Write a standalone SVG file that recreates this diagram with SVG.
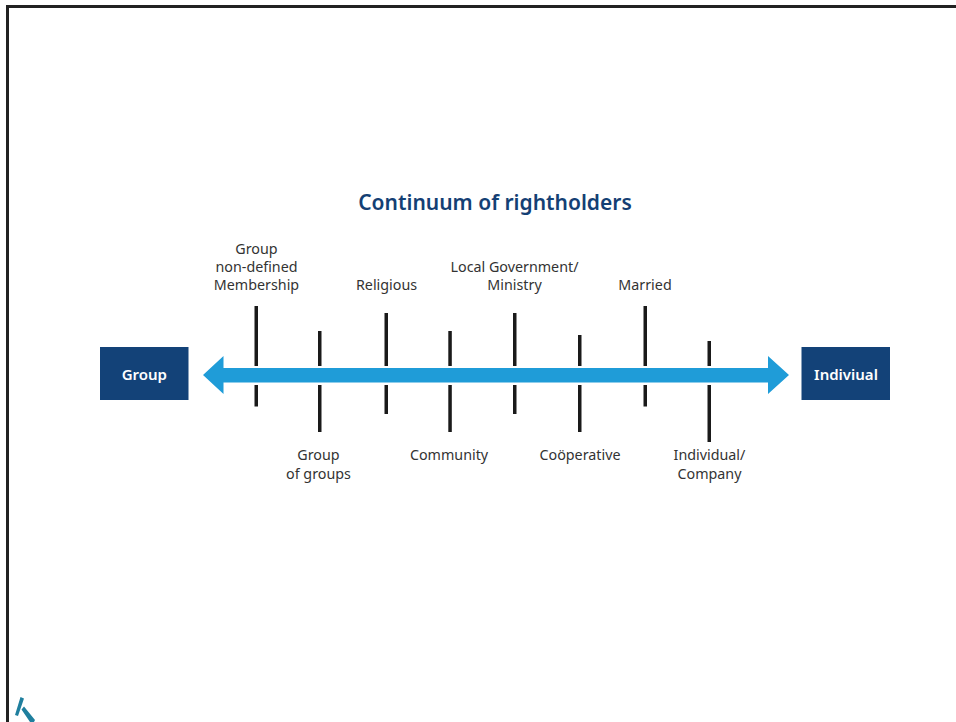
<svg xmlns="http://www.w3.org/2000/svg" width="956" height="722" viewBox="0 0 956 722">
<style>
.l{font-family:"Noto Sans","Liberation Sans",sans-serif;font-size:14.300px;fill:#333;text-anchor:middle}
.b{font-family:"Noto Sans","Liberation Sans",sans-serif;font-size:15px;font-weight:600;fill:#fff;text-anchor:middle}
.t{font-family:"Noto Sans","Liberation Sans",sans-serif;font-size:21px;font-weight:600;fill:#143f74;text-anchor:middle}
.k{fill:#1a1a1a}
.box{fill:#134278}
</style>
<rect width="956" height="722" fill="#fff"/>
<path d="M7.500 722V6.500H956" fill="none" stroke="#222" stroke-width="3"/>
<g id="logo"><path d="M15 715L20.500 697L24 698.500L18 716ZM21.500 709.500L24 706.500L35 720L34 722H30Z" fill="#1f7f9e"/></g>
<text id="title" class="t" x="495" y="210">Continuum of rightholders</text>
<g id="connectors">
<g class="k">
<rect x="254.500" y="306" width="3.500" height="60"/><rect x="254.500" y="385" width="3.500" height="21.500"/>
<rect x="318" y="331" width="3.500" height="35"/><rect x="318" y="385" width="3.500" height="47"/>
<rect x="384.500" y="313" width="3.500" height="53"/><rect x="384.500" y="385" width="3.500" height="29"/>
<rect x="448.300" y="331" width="3.500" height="35"/><rect x="448.300" y="385" width="3.500" height="47"/>
<rect x="513" y="313" width="3.500" height="53"/><rect x="513" y="385" width="3.500" height="29"/>
<rect x="578" y="335" width="3.500" height="31"/><rect x="578" y="385" width="3.500" height="47"/>
<rect x="643.500" y="306" width="3.500" height="60"/><rect x="643.500" y="385" width="3.500" height="21.500"/>
<rect x="707.500" y="341" width="3.500" height="25"/><rect x="707.500" y="385" width="3.500" height="57"/>
</g>
<path id="continuum" d="M203 375L223.500 356V368H768V356L789 375L768 394V382.500H223.500V394Z" fill="#1f9cd8"/>
</g>
<g id="node-group"><rect class="box" x="100" y="347" width="88.500" height="53"/><text class="b" x="144.300" y="380">Group</text></g>
<g id="node-individual"><rect class="box" x="801.500" y="347" width="88.500" height="53"/><text class="b" x="846" y="380">Indiviual</text></g>
<g id="label-1"><text class="l" x="256.500" y="254">Group</text><text class="l" x="256.500" y="272">non-defined</text><text class="l" x="256.500" y="290">Membership</text></g>
<g id="label-2"><text class="l" x="318.500" y="460">Group</text><text class="l" x="318.500" y="479">of groups</text></g>
<g id="label-3"><text class="l" x="386.500" y="290">Religious</text></g>
<g id="label-4"><text class="l" x="449" y="460">Community</text></g>
<g id="label-5"><text class="l" x="514.500" y="272">Local Government/</text><text class="l" x="514.500" y="290">Ministry</text></g>
<g id="label-6"><text class="l" x="580" y="460">Coöperative</text></g>
<g id="label-7"><text class="l" x="645" y="290">Married</text></g>
<g id="label-8"><text class="l" x="709.500" y="460">Individual/</text><text class="l" x="709.500" y="479">Company</text></g>
</svg>
